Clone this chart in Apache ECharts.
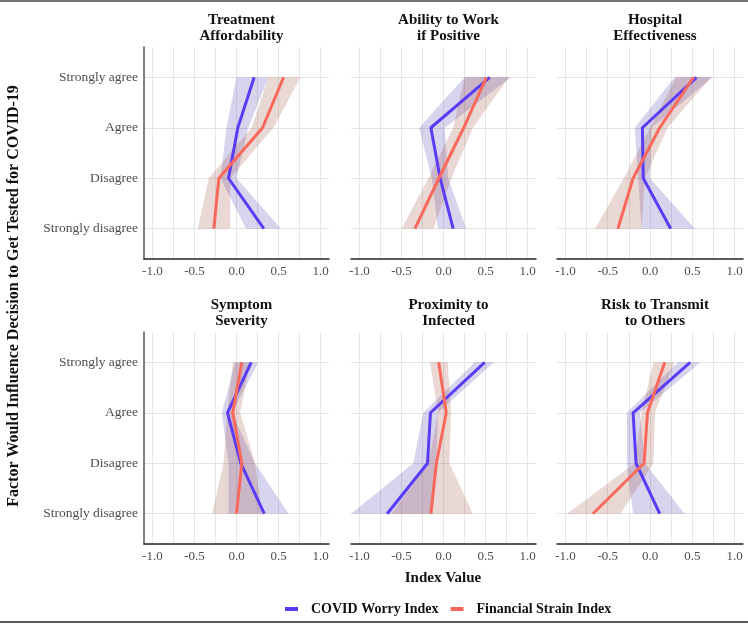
<!DOCTYPE html>
<html>
<head>
<meta charset="utf-8">
<script src="https://cdn.jsdelivr.net/npm/echarts@6/dist/echarts.min.js"></script>
<style>html,body{margin:0;padding:0;background:#fff}#c{width:748px;height:624px}</style>
</head>
<body>
<div id="c"></div>
<script>
// Categories from bottom (position 1) to top (position 4)
const categories = ['Strongly disagree', 'Disagree', 'Agree', 'Strongly agree'];
const catPos = [1, 2, 3, 4];
const xTickLabels = [-1, -0.5, 0, 0.5, 1];
const xGridValues = [-1, -0.75, -0.5, -0.25, 0, 0.25, 0.5, 0.75, 1];
const seriesNames = ['COVID Worry Index', 'Financial Strain Index'];
const panelTitles = ['Treatment\nAffordability', 'Ability to Work\nif Positive', 'Hospital\nEffectiveness',
                     'Symptom\nSeverity', 'Proximity to\nInfected', 'Risk to Transmit\nto Others'];

// Values ordered SD, D, A, SA
const covid    = [[0.325,-0.095,0.016,0.21],[0.115,-0.04,-0.15,0.55],[0.245,-0.08,-0.09,0.55],
                  [0.33,0.05,-0.107,0.175],[-0.67,-0.19,-0.155,0.49],[0.115,-0.165,-0.2,0.475]];
const covidLo  = [[0.115,-0.19,-0.12,0.0],[-0.065,-0.14,-0.29,0.25],[-0.1,-0.14,-0.18,0.29],
                  [-0.095,-0.095,-0.175,-0.016],[-1.1,-0.36,-0.24,0.37],[-0.2,-0.275,-0.275,0.33]];
const covidHi  = [[0.53,0.0,0.14,0.38],[0.27,0.055,0.015,0.8],[0.53,0.0,0.02,0.74],
                  [0.62,0.22,-0.055,0.26],[-0.16,-0.085,-0.065,0.6],[0.41,-0.06,-0.12,0.6]];
const fin      = [[-0.27,-0.21,0.31,0.56],[-0.34,-0.055,0.24,0.51],[-0.38,-0.2,0.115,0.515],
                  [0.0,0.063,-0.044,0.063],[-0.15,-0.085,0.033,-0.057],[-0.675,-0.07,-0.03,0.175]];
const finLo    = [[-0.46,-0.33,0.18,0.38],[-0.5,-0.18,0.115,0.25],[-0.65,-0.31,0.0,0.31],
                  [-0.29,-0.155,-0.11,-0.044],[-0.62,-0.18,-0.065,-0.16],[-0.98,-0.18,-0.1,0.04]];
const finHi    = [[-0.075,-0.075,0.44,0.76],[-0.12,0.095,0.35,0.78],[-0.1,-0.06,0.21,0.72],
                  [0.3,0.22,0.044,0.16],[0.35,0.07,0.09,0.05],[-0.35,0.04,0.06,0.29]];

const lineColors = ['#5a3cf6', '#f8695c'];
const bandColors = ['rgba(55,45,165,0.2)', 'rgba(150,60,45,0.2)'];
const FONT = '"Liberation Serif", "Times New Roman", serif';

const colLeft = [144, 351, 557];
const colWidth = [185, 185, 186];
const rowTop = [47, 332];
const rowHeight = 212;

const grids = [], xAxes = [], yAxes = [], series = [], titles = [];
for (let p = 0; p < 6; p++) {
  const r = Math.floor(p / 3), c = p % 3;
  grids.push({left: colLeft[c], top: rowTop[r], width: colWidth[c], height: rowHeight});
  titles.push({
    text: panelTitles[p], left: colLeft[c] + colWidth[c] / 2, top: rowTop[r] - 40, textAlign: 'center',
    textStyle: {fontFamily: FONT, fontWeight: 'bold', fontSize: 15, lineHeight: 16, color: '#111'}
  });
  xAxes.push({
    type: 'value', gridIndex: p, min: -1.1, max: 1.1,
    axisLine: {show: true, onZero: false, lineStyle: {color: '#222', width: 1.5}},
    axisTick: {show: false, customValues: xGridValues},
    axisLabel: {customValues: xTickLabels, formatter: v => v.toFixed(1), fontFamily: FONT, fontSize: 13, color: '#4d4d4d', margin: 6},
    splitLine: {show: true, lineStyle: {color: '#e6e6e6', width: 1}}
  });
  yAxes.push({
    type: 'value', gridIndex: p, min: 0.4, max: 4.6,
    axisLine: {show: c === 0, onZero: false, lineStyle: {color: '#555', width: 1.5}},
    axisTick: {show: false, customValues: catPos},
    axisLabel: {show: c === 0, customValues: catPos, formatter: v => categories[Math.round(v) - 1],
                fontFamily: FONT, fontSize: 13.5, color: '#4d4d4d', margin: 6},
    splitLine: {show: true, lineStyle: {color: '#e3e3e3', width: 1}}
  });
  const lows = [covidLo[p], finLo[p]], highs = [covidHi[p], finHi[p]], mids = [covid[p], fin[p]];
  for (let s = 0; s < 2; s++) {
    series.push({
      type: 'custom', name: 'band' + s, xAxisIndex: p, yAxisIndex: p, clip: true, silent: true,
      data: [lows[s].concat(highs[s])],
      renderItem: (function (color) {
        return function (params, api) {
          const pts = [];
          for (let i = 0; i < 4; i++) pts.push(api.coord([api.value(i), catPos[i]]));
          for (let i = 3; i >= 0; i--) pts.push(api.coord([api.value(4 + i), catPos[i]]));
          return {type: 'polygon', shape: {points: pts}, style: {fill: color}};
        };
      })(bandColors[s])
    });
  }
  for (let s = 0; s < 2; s++) {
    series.push({
      type: 'line', name: seriesNames[s], xAxisIndex: p, yAxisIndex: p,
      data: mids[s].map((v, i) => [v, catPos[i]]),
      showSymbol: false, symbol: 'none', animation: false,
      color: lineColors[s],
      lineStyle: {color: lineColors[s], width: 3}
    });
  }
}

const chart = echarts.init(document.getElementById('c'), null, {renderer: 'canvas'});
chart.setOption({
  animation: false,
  backgroundColor: '#fff',
  title: titles,
  grid: grids,
  xAxis: xAxes,
  yAxis: yAxes,
  series: series,
  legend: {
    data: seriesNames, left: 280, top: 597, icon: 'rect', itemWidth: 13, itemHeight: 4, itemGap: 12,
    textStyle: {fontFamily: FONT, fontWeight: 'bold', fontSize: 14, color: '#111', padding: [0, 0, 0, 8]}
  },
  graphic: [
    {type: 'line', shape: {x1: 0, y1: 1, x2: 748, y2: 1}, style: {stroke: '#444', lineWidth: 1.5}},
    {type: 'line', shape: {x1: 0, y1: 622, x2: 748, y2: 622}, style: {stroke: '#222', lineWidth: 1.5}},
    {type: 'text', x: 443, y: 578, style: {text: 'Index Value', textAlign: 'center', textVerticalAlign: 'middle',
      font: 'bold 15px ' + FONT, fill: '#111'}},
    {type: 'text', x: 14, y: 296, rotation: Math.PI / 2, style: {text: 'Factor Would Influence Decision to Get Tested for COVID-19',
      textAlign: 'center', textVerticalAlign: 'middle', font: 'bold 16px ' + FONT, fill: '#111'}}
  ]
});
</script>
</body>
</html>
